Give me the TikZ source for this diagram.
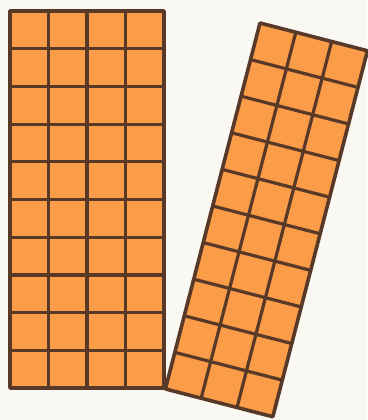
\documentclass[tikz,border=0pt]{standalone}
\usepackage{tikz}
\definecolor{tile}{RGB}{250,156,72}
\definecolor{grout}{RGB}{88,56,38}
\definecolor{paper}{RGB}{250,248,243}
\tikzset{
  tiles/.style={fill=tile},
  joint/.style={grout,line width=3.2pt,line cap=round},
  rim/.style={grout,line width=3.6pt,line join=round}
}
\begin{document}
\begin{tikzpicture}[x=1pt,y=-1pt]
  \fill[paper] (0,0) rectangle (367,420);
  \useasboundingbox (0,0) rectangle (367,420);
  \begin{scope}[shift={(10,11)},x=38.5pt,y=-37.7pt]
    \fill[tiles] (0,0) rectangle (4,10);
    \foreach \i in {1,...,3} \draw[joint] (\i,0) -- (\i,10);
    \foreach \j in {1,...,9} \draw[joint] (0,\j) -- (4,\j);
    \draw[rim] (0,0) rectangle (4,10);
  \end{scope}
  \begin{scope}[shift={(260,23)},rotate=-14.5,x=37pt,y=-37.8pt]
    \fill[tiles] (0,0) rectangle (3,10);
    \foreach \i in {1,2} \draw[joint] (\i,0) -- (\i,10);
    \foreach \j in {1,...,9} \draw[joint] (0,\j) -- (3,\j);
    \draw[rim] (0,0) rectangle (3,10);
  \end{scope}
\end{tikzpicture}
\end{document}
